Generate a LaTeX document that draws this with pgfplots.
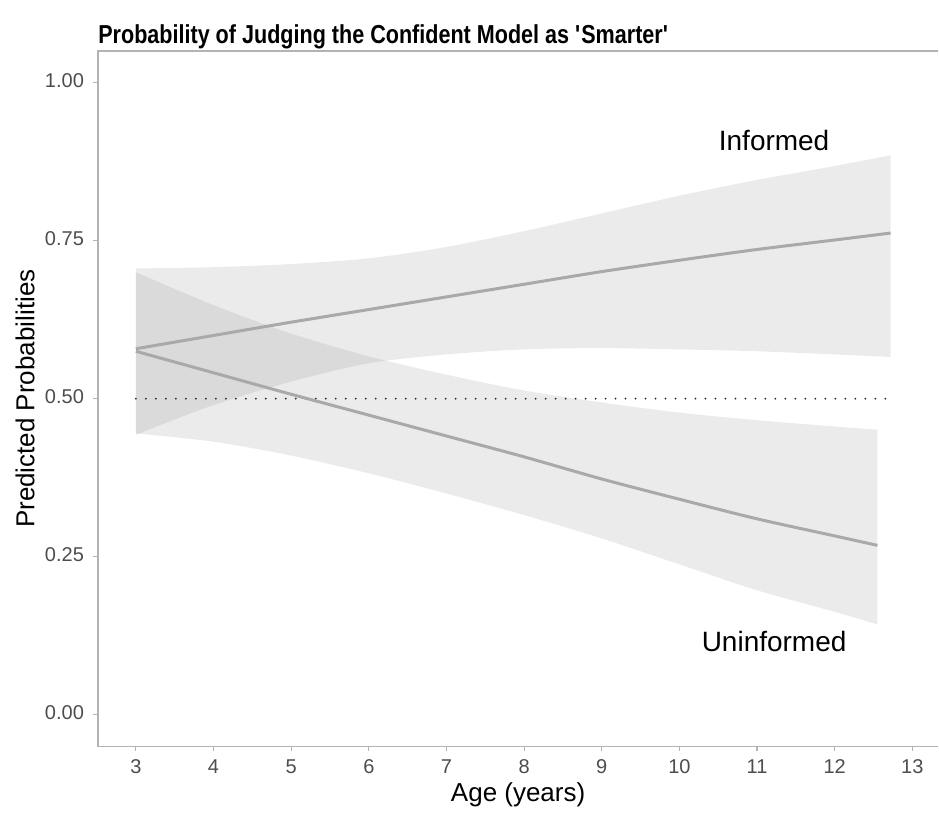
\documentclass[border=0pt]{standalone}
\usepackage{pgfplots}
\pgfplotsset{compat=1.18}
\usepackage{pgfplotstable}
\usepgfplotslibrary{fillbetween}
\usepackage{fontspec}
\setmainfont{Liberation Sans}
\newfontfamily\titlefont[FakeStretch=0.83]{Liberation Sans}
\definecolor{axgray}{HTML}{B3B3B3}
\definecolor{tickgray}{HTML}{4D4D4D}
\definecolor{linegray}{HTML}{A9A9A9}

\pgfplotstableread{
age fit lo hi
3 0.579 0.443 0.706
4 0.600 0.490 0.708
5 0.621 0.527 0.713
6 0.641 0.556 0.722
7 0.661 0.570 0.740
8 0.681 0.578 0.765
9 0.701 0.580 0.793
10 0.719 0.578 0.821
11 0.736 0.575 0.846
12 0.751 0.570 0.868
12.72 0.762 0.566 0.885
}\informed

\pgfplotstableread{
age fit lo hi
3 0.575 0.445 0.700
4 0.541 0.432 0.648
5 0.507 0.410 0.603
6 0.474 0.382 0.567
7 0.441 0.350 0.538
8 0.408 0.316 0.513
9 0.373 0.279 0.494
10 0.341 0.238 0.478
11 0.310 0.197 0.466
12 0.283 0.163 0.456
12.55 0.268 0.143 0.451
}\uninformed

\begin{document}
\begin{tikzpicture}
\begin{axis}[
  at={(0,0)}, anchor=south west,
  scale only axis,
  width=420.5pt, height=348pt,
  xmin=2.511, xmax=13.335,
  ymin=-0.05, ymax=1.05,
  axis line style={draw=none},
  xtick={3,4,...,13},
  ytick={0,0.25,0.5,0.75,1},
  yticklabels={0.00,0.25,0.50,0.75,1.00},
  tick align=outside,
  major tick length=2.5pt,
  tick style={axgray, line width=0.6pt},
  xtick pos=bottom, ytick pos=left,
  ticklabel style={font=\fontsize{10}{12}\selectfont, text=tickgray},
  typeset ticklabels with strut,
  /pgf/number format/assume math mode=true,
  xticklabel style={yshift=1pt},
  yticklabel style={xshift=-1pt},
  xlabel={Age (years)},
  ylabel={Predicted Probabilities},
  every axis x label/.style={at={(axis description cs:0.5,-0.069)}, anchor=center, font=\fontsize{13}{15}\selectfont},
  every axis y label/.style={at={(axis description cs:-0.0868,0.5)}, rotate=90, anchor=center, font=\fontsize{13}{15}\selectfont},
  clip=false,
]
% frame (left, bottom, top)
\draw[axgray, line width=0.7pt] (rel axis cs:1,1) -- (rel axis cs:0,1) -- (rel axis cs:0,0) -- (rel axis cs:1,0);

% ribbons
\addplot[draw=none, smooth, name path=ihi] table[x=age, y=hi] {\informed};
\addplot[draw=none, smooth, name path=ilo] table[x=age, y=lo] {\informed};
\addplot[black!40, fill opacity=0.2, draw=none] fill between[of=ihi and ilo];
\addplot[draw=none, smooth, name path=uhi] table[x=age, y=hi] {\uninformed};
\addplot[draw=none, smooth, name path=ulo] table[x=age, y=lo] {\uninformed};
\addplot[black!40, fill opacity=0.2, draw=none] fill between[of=uhi and ulo];

% reference line
\addplot[black!85, line width=1pt, line cap=round, dash pattern=on 0pt off 5pt] coordinates {(3,0.5) (12.72,0.5)};

% fitted lines
\addplot[linegray, line width=1.5pt, smooth] table[x=age, y=fit] {\informed};
\addplot[linegray, line width=1.5pt, smooth] table[x=age, y=fit] {\uninformed};

\node[font=\fontsize{14}{16}\selectfont] at (axis cs:11.22,0.909) {Informed};
\node[font=\fontsize{14}{16}\selectfont] at (axis cs:11.22,0.116) {Uninformed};

\node[anchor=base west, inner sep=0pt, font=\titlefont\bfseries\fontsize{13}{15}\selectfont] at ([yshift=3.5pt]rel axis cs:0,1) {Probability of Judging the Confident Model as \textquotesingle Smarter\textquotesingle};
\end{axis}
\path[use as bounding box] (-49pt,-31pt) rectangle (420.5pt,373.5pt);
\end{tikzpicture}
\end{document}
